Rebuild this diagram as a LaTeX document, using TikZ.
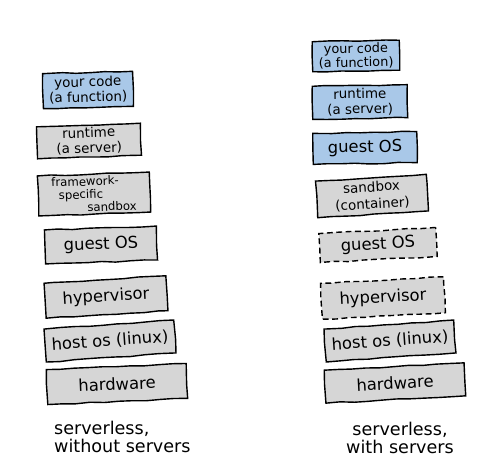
\documentclass[tikz,border=0pt]{standalone}
\usepackage{fontspec}
\setmainfont{DejaVu Sans}
\usetikzlibrary{decorations.pathmorphing}

\definecolor{codeblue}{HTML}{A9C8E8}
\definecolor{layergray}{HTML}{D6D6D6}

\begin{document}
\begin{tikzpicture}[x=0.03cm, y=-0.03cm,
  box/.style={draw, line width=1.2pt, inner sep=0pt, align=center,
    decorate, decoration={random steps, segment length=12pt, amplitude=0.5pt}},
  bluebox/.style={box, fill=codeblue},
  graybox/.style={box, fill=layergray},
  dashbox/.style={graybox, dash pattern=on 5pt off 3pt},
  big/.style={font=\fontsize{14}{16}\selectfont},
  small/.style={font=\fontsize{11.5}{13}\selectfont},
  caption/.style={font=\fontsize{15}{16}\selectfont}]
\useasboundingbox (0,0) rectangle (500,473);

% left stack
\node[bluebox, small, minimum width=2.7cm, minimum height=1.05cm, rotate=1.5] (l-code) at (88,90) {your code\\(a function)};
\node[graybox, small, minimum width=3.12cm, minimum height=0.96cm, rotate=2] (l-runtime) at (89,141) {runtime\\(a server)};
\node[graybox, font=\fontsize{10}{11}\selectfont, align=left, minimum width=3.36cm, minimum height=1.2cm, rotate=2] (l-sandbox) at (94,194) {framework-\\\hspace*{0.6em}specific\\\hspace*{3em}sandbox};
\node[graybox, big, minimum width=3.36cm, minimum height=1.02cm, rotate=2] (l-guest) at (101,245) {guest OS};
\node[graybox, big, minimum width=3.66cm, minimum height=1.05cm, rotate=3.5] (l-hyper) at (106,297) {hypervisor};
\node[graybox, big, minimum width=3.9cm, minimum height=0.99cm, rotate=4] (l-host) at (110,341) {host os (linux)};
\node[graybox, big, minimum width=4.2cm, minimum height=1.05cm, rotate=2.5] (l-hw) at (117,384) {hardware};

% right stack
\node[bluebox, font=\fontsize{11}{12}\selectfont, minimum width=2.61cm, minimum height=0.9cm, rotate=1] (r-code) at (356,56) {your code\\(a function)};
\node[bluebox, small, minimum width=2.85cm, minimum height=0.99cm, rotate=1] (r-runtime) at (360,102) {runtime\\(a server)};
\node[bluebox, big, minimum width=3.12cm, minimum height=0.93cm, rotate=1] (r-guest) at (365,148) {guest OS};
\node[graybox, font=\fontsize{11.5}{14.5}\selectfont, minimum width=3.33cm, minimum height=1.1cm, rotate=3.5] (r-sandbox) at (372,196) {sandbox\\(container)};
\node[dashbox, big, minimum width=3.51cm, minimum height=0.87cm, rotate=3] (r-guest2) at (378,245) {guest OS};
\node[dashbox, big, minimum width=3.69cm, minimum height=1.08cm, rotate=3] (r-hyper) at (383,298) {hypervisor};
\node[graybox, big, minimum width=3.9cm, minimum height=0.99cm, rotate=4] (r-host) at (390,341) {host os (linux)};
\node[graybox, big, minimum width=4.2cm, minimum height=0.99cm, rotate=3] (r-hw) at (395,383) {hardware};

% captions
\node[caption, anchor=west, align=left] (l-caption) at (50,437) {serverless,\\without servers};
\node[caption, align=center] (r-caption) at (400,438) {serverless,\\with servers};
\end{tikzpicture}
\end{document}
